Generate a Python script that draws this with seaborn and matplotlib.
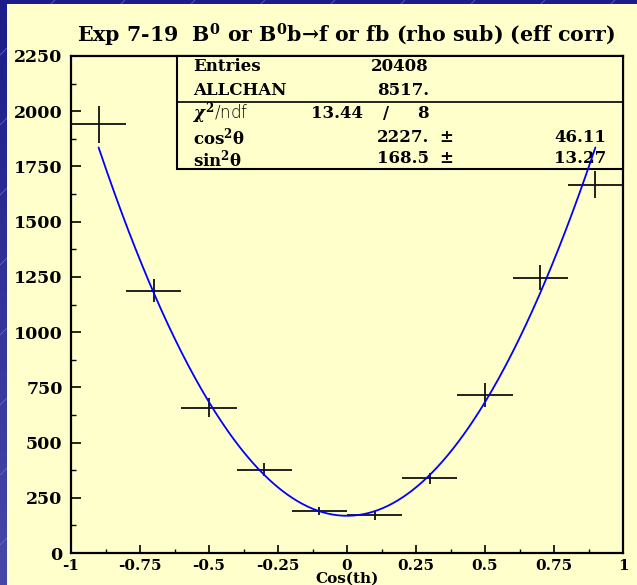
import numpy as np
import pandas as pd
import matplotlib
matplotlib.use("Agg")
import matplotlib.pyplot as plt
import seaborn as sns
from matplotlib.patches import Rectangle
from matplotlib.ticker import MultipleLocator
from matplotlib.colors import LinearSegmentedColormap

# Efficiency-corrected yield per cos(theta) bin
bin_centers = [-0.9, -0.7, -0.5, -0.3, -0.1, 0.1, 0.3, 0.5, 0.7, 0.9]
counts = [1940, 1188, 658, 378, 190, 170, 338, 715, 1247, 1668]
errors = [85, 52, 42, 30, 20, 20, 26, 55, 55, 62]
bin_half_width = 0.1

# Fit: N(x) = A*cos^2(theta) + B*sin^2(theta), x = cos(theta)
fit_cos2 = 2227.0
fit_cos2_err = 46.11
fit_sin2 = 168.5
fit_sin2_err = 13.27
fit_range = (-0.9, 0.9)

x_ticks = [-1, -0.75, -0.5, -0.25, 0, 0.25, 0.5, 0.75, 1]
x_tick_labels = ["-1", "-0.75", "-0.5", "-0.25", "0", "0.25", "0.5", "0.75", "1"]
y_ticks = [0, 250, 500, 750, 1000, 1250, 1500, 1750, 2000, 2250]

CREAM = "#ffffcc"
SERIF = "DejaVu Serif"

sns.set_style("ticks")
plt.rcParams["font.family"] = [SERIF, "DejaVu Sans"]
plt.rcParams["font.weight"] = "bold"
plt.rcParams["mathtext.fontset"] = "dejavuserif"
for key in ["text.color", "axes.labelcolor", "xtick.color", "ytick.color", "axes.edgecolor"]:
    plt.rcParams[key] = "black"

W, H = 637, 585
fig = plt.figure(figsize=(W / 100, H / 100), dpi=100)

# slide background: blue gradient with faint diagonal strokes
bg = fig.add_axes([0, 0, 1, 1], zorder=-10)
grad = np.linspace(0, 1, 256).reshape(-1, 1)
cmap = LinearSegmentedColormap.from_list("slide", ["#1c1c8a", "#4848a8"])
bg.imshow(grad, aspect="auto", cmap=cmap, extent=[0, W, H, 0], zorder=0)
for x0 in range(-600, W + 100, 70):
    bg.plot([x0, x0 + H], [H, 0], color="#7a7ad0", lw=0.6, alpha=0.7, zorder=1)
bg.add_patch(Rectangle((7, 4), W, H, facecolor=CREAM, edgecolor="none", zorder=5))
bg.set_xlim(0, W)
bg.set_ylim(H, 0)
bg.axis("off")

left, right, top, bottom = 71, 623, 56, 553
ax = fig.add_axes([left / W, 1 - bottom / H, (right - left) / W, (bottom - top) / H])
ax.set_facecolor(CREAM)

# fitted curve
xs = np.linspace(fit_range[0], fit_range[1], 300)
fit_df = pd.DataFrame({"x": xs, "y": fit_cos2 * xs**2 + fit_sin2 * (1 - xs**2)})
sns.lineplot(data=fit_df, x="x", y="y", ax=ax, color="#0000ff", lw=1.3, zorder=6)

# data points with bin-width horizontal bars
ax.errorbar(bin_centers, counts, xerr=bin_half_width, yerr=errors, fmt="none",
            ecolor="#111111", elinewidth=1.3, capsize=0, zorder=5)

ax.set_xlim(-1, 1)
ax.set_ylim(0, 2250)
ax.set_xticks(x_ticks)
ax.set_xticklabels(x_tick_labels)
ax.set_yticks(y_ticks)
ax.xaxis.set_minor_locator(MultipleLocator(0.125))
ax.yaxis.set_minor_locator(MultipleLocator(125))
ax.tick_params(axis="x", which="major", direction="in", length=6, width=1.2, pad=4,
               labelsize=11, top=False)
ax.tick_params(axis="x", which="minor", direction="in", length=3, width=1.0, top=False)
ax.tick_params(axis="y", which="major", direction="in", length=7, width=1.2, pad=6,
               labelsize=12.5, right=False)
ax.tick_params(axis="y", which="minor", direction="in", length=3.5, width=1.0, right=False)
for lab in ax.get_xticklabels() + ax.get_yticklabels():
    lab.set_fontweight("bold")
for sp in ax.spines.values():
    sp.set_visible(True)
    sp.set_linewidth(1.6)
    sp.set_color("black")
ax.set_xlabel("Cos(th)", fontsize=11, fontweight="bold", labelpad=-1)
ax.set_ylabel("")

# statistics box
bx0, by0 = 0.192, 0.7726
ax.add_patch(Rectangle((bx0, by0), 1 - bx0, 1 - by0, transform=ax.transAxes,
                       facecolor=CREAM, edgecolor="black", lw=1.5, zorder=3, clip_on=False))
ax.plot([bx0, 1], [0.908, 0.908], transform=ax.transAxes, color="black", lw=1.2,
        zorder=3, clip_on=False)

fs = 12
def box_text(x, y, s, ha="left", **kw):
    opts = dict(fontsize=fs, fontweight="bold", transform=ax.transAxes, ha=ha,
                va="center", zorder=4, clip_on=False)
    opts.update(kw)
    ax.text(x, y, s, **opts)

lx, cx, vx = 0.2205, 0.6486, 0.9692
box_text(lx, 0.9779, "Entries")
box_text(cx, 0.9779, "20408", ha="right")
box_text(lx, 0.9296, "ALLCHAN")
box_text(cx, 0.9296, "8517.", ha="right")
box_text(lx, 0.8847, r"$\chi^{2}$/ndf", fontweight="light", family="DejaVu Sans")
box_text(0.5284, 0.8847, "13.44", ha="right")
box_text(0.5707, 0.8847, "/", ha="center")
box_text(cx, 0.8847, "8", ha="right")
box_text(lx, 0.8364, r"cos$^{\mathbf{2}}$θ")
box_text(cx, 0.8364, f"{fit_cos2:.0f}.", ha="right")
box_text(0.6800, 0.8364, "±", ha="center")
box_text(vx, 0.8364, f"{fit_cos2_err:.2f}", ha="right")
box_text(lx, 0.7928, r"sin$^{\mathbf{2}}$θ")
box_text(cx, 0.7928, f"{fit_sin2:.1f}", ha="right")
box_text(0.6800, 0.7928, "±", ha="center")
box_text(vx, 0.7928, f"{fit_sin2_err:.2f}", ha="right")

fig.text(346 / W, 1 - 35 / H,
         r"Exp 7-19  B$^{\mathbf{0}}$ or B$^{\mathbf{0}}$b→f or fb (rho sub) (eff corr)",
         ha="center", va="center", fontsize=14.8, fontweight="bold")

fig.savefig("out.png", dpi=100, facecolor=CREAM)
